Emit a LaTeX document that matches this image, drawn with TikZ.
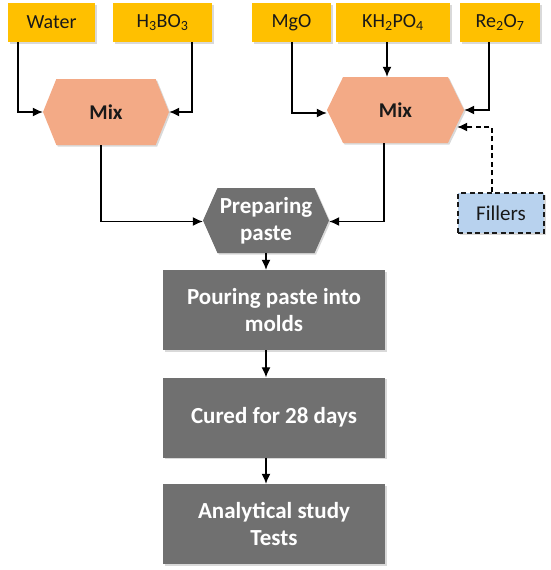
\documentclass[tikz,border=0pt]{standalone}
\usepackage{fontspec}
\setmainfont{Carlito}
\usetikzlibrary{arrows.meta,shapes.symbols,shadows,calc}
\definecolor{cyel}{RGB}{255,192,0}
\definecolor{csal}{RGB}{243,170,134}
\definecolor{cgray}{RGB}{112,112,112}
\definecolor{cblue}{RGB}{184,210,238}
\definecolor{cdark}{RGB}{25,25,25}
\begin{document}
\begin{tikzpicture}[x=1pt,y=-1pt,
  shd/.style={drop shadow={opacity=0.3,shadow xshift=1.5pt,shadow yshift=-1.5pt}},
  inbox/.style={fill=cyel,minimum height=39pt,inner sep=0pt,font=\fontsize{20}{22}\selectfont,text=cdark,shd},
  mixhex/.style={signal,signal to=west and east,fill=csal,inner sep=0pt,minimum height=66pt,font=\fontsize{21}{24}\selectfont\bfseries,text=cdark,shd},
  grayhex/.style={signal,signal to=west and east,fill=cgray,inner sep=0pt,minimum height=65pt,font=\fontsize{23}{27}\selectfont\bfseries,text=white,align=center,shd},
  graybox/.style={fill=cgray,minimum width=222pt,minimum height=80pt,inner sep=0pt,font=\fontsize{23}{27}\selectfont\bfseries,text=white,align=center,shd},
  conn/.style={line width=1.3pt,-{Latex[length=10pt,width=9pt]}},
  dsh/.style={dash pattern=on 5pt off 3.5pt},
]
\useasboundingbox (0,0) rectangle (550,570);
% inputs
\node[inbox,minimum width=87pt] (water) at (51.5,22.5) {Water};
\node[inbox,minimum width=99pt] (hbo) at (162.5,22.5) {H\textsubscript{3}BO\textsubscript{3}};
\node[inbox,minimum width=79pt] (mgo) at (291.5,22.5) {MgO};
\node[inbox,minimum width=114pt] (khp) at (393,22.5) {KH\textsubscript{2}PO\textsubscript{4}};
\node[inbox,minimum width=80pt] (reo) at (500,22.5) {Re\textsubscript{2}O\textsubscript{7}};
% mixes
\node[mixhex,minimum width=126pt,signal pointer angle=136] (mixL) at (106,112) {Mix};
\node[mixhex,minimum width=137pt,signal pointer angle=128] (mixR) at (395.5,110) {Mix};
% fillers
\node[fill=cblue,draw=cdark,dsh,line width=1.2pt,minimum width=86pt,minimum height=40pt,inner sep=0pt,font=\fontsize{21}{24}\selectfont,text=cdark,shd] (fill) at (501,213) {Fillers};
% preparing paste
\node[grayhex,minimum width=126pt,signal pointer angle=132] (prep) at (266,220.5) {Preparing\\paste};
% steps
\node[graybox] (pour) at (274,310) {Pouring paste into\\molds};
\node[graybox] (cure) at (274,417.5) {Cured for 28 days};
\node[graybox] (anal) at (274,524) {Analytical study\\Tests};
% helper coordinates
\coordinate (kt) at ($(mixR.north)+(-8.5,0)$);
\coordinate (mgoin) at ($(mixR.west)+(0,3)$);
\coordinate (fin) at ($(mixR.east)+(-7,17)$);
\coordinate (pl) at ($(prep.west)+(0,1)$);
\coordinate (pr) at ($(prep.east)+(0,1)$);
% connectors
\draw[conn] (water.south -| 18,0) |- (mixL.west);
\draw[conn] (hbo.south -| 192,0) |- (mixL.east);
\draw[conn] (mgo.south -| 292,0) |- (mgoin);
\draw[conn] (khp.south -| kt) -- (kt);
\draw[conn] (reo.south -| 489,0) |- (mixR.east);
\draw[conn,dsh] (fill.north -| 492,0) |- (fin);
\draw[conn] (mixL.south -| 101,0) |- (pl);
\draw[conn] (mixR.south -| 384,0) |- (pr);
\draw[conn] (prep.south) -- (prep.south |- pour.north);
\draw[conn] (pour.south -| prep.south) -- (prep.south |- cure.north);
\draw[conn] (cure.south -| prep.south) -- (prep.south |- anal.north);
\end{tikzpicture}
\end{document}
